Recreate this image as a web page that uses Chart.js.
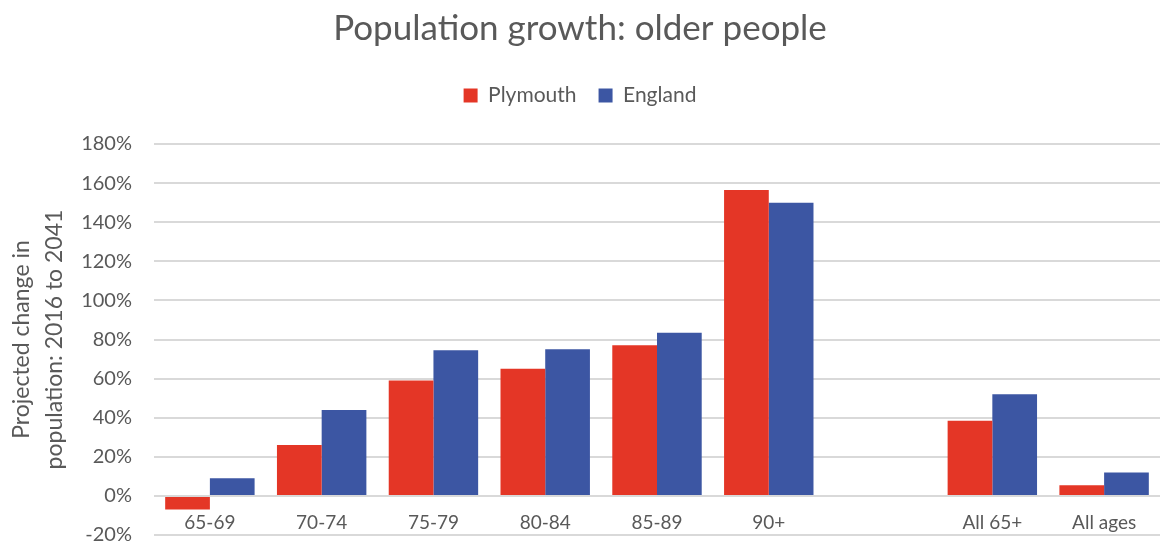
<!DOCTYPE html>
<html>
<head>
<meta charset="utf-8">
<script src="https://cdn.jsdelivr.net/npm/chart.js@4"></script>
<style>
  html, body { margin: 0; padding: 0; background: #fff; }
  #wrap { width: 1162px; height: 545px; }
</style>
</head>
<body>
<div id="wrap"><canvas id="myChart"></canvas></div>
<script>
// data (percent change 2016 to 2041)
const ageGroups = ['65-69', '70-74', '75-79', '80-84', '85-89', '90+', '', 'All 65+', 'All ages'];
const plymouth = [-7, 26, 59, 65, 77, 156.5, null, 38.5, 5.5];
const england = [9, 44, 74.5, 75, 83.5, 150, null, 52, 12];
const yTicks = [-20, 0, 20, 40, 60, 80, 100, 120, 140, 160, 180];

const greyText = '#595959';
const fontName = 'Lato, "Noto Sans", sans-serif';

var ctx = document.getElementById('myChart').getContext('2d');

// extra room under the legend, like the original
const legendGap = {
    id: 'legendGap',
    beforeInit(chart) {
        const fit = chart.legend.fit;
        chart.legend.fit = function() {
            fit.bind(chart.legend)();
            this.height += 28;
        };
    }
};

var chart = new Chart(ctx, {
    type: 'bar',
    data: {
        labels: ageGroups,
        datasets: [{
            label: 'Plymouth',
            data: plymouth,
            backgroundColor: '#e43626'
        }, {
            label: 'England',
            data: england,
            backgroundColor: '#3c56a3'
        }]
    },
    options: {
        responsive: true,
        maintainAspectRatio: false,
        animation: false,
        categoryPercentage: 0.8,
        barPercentage: 1.0,
        layout: {
            padding: { left: 0, right: 2, top: 8, bottom: 10 }
        },
        plugins: {
            title: {
                display: true,
                text: 'Population growth: older people',
                color: greyText,
                font: { family: fontName, size: 35, weight: 'normal' },
                padding: { top: 0, bottom: 13 }
            },
            legend: {
                display: true,
                labels: {
                    color: greyText,
                    font: { family: fontName, size: 21 },
                    boxWidth: 14,
                    boxHeight: 14,
                    padding: 22
                }
            },
            tooltip: { enabled: false }
        },
        scales: {
            x: {
                position: { y: 0 },
                grid: { display: false, drawTicks: false },
                border: { display: false },
                ticks: {
                    color: greyText,
                    font: { family: fontName, size: 19 },
                    padding: 16,
                    maxRotation: 0
                }
            },
            y: {
                min: -20,
                max: 180,
                afterBuildTicks: function(axis) {
                    axis.ticks = yTicks.map(v => ({ value: v }));
                },
                afterFit: function(axis) {
                    axis.width = 154;
                    axis.paddingTop = 0;
                    axis.paddingBottom = 0;
                },
                grid: { color: '#d9d9d9', lineWidth: 2, drawTicks: false },
                border: { display: false },
                ticks: {
                    color: greyText,
                    font: { family: fontName, size: 20 },
                    padding: 22,
                    callback: function(v) { return v + '%'; }
                },
                title: {
                    display: true,
                    text: ['Projected change in', 'population: 2016 to 2041'],
                    color: greyText,
                    font: { family: fontName, size: 23, lineHeight: 1.45 },
                    padding: { top: 5, bottom: 0 }
                }
            }
        }
    },
    plugins: [legendGap]
});
</script>
</body>
</html>
